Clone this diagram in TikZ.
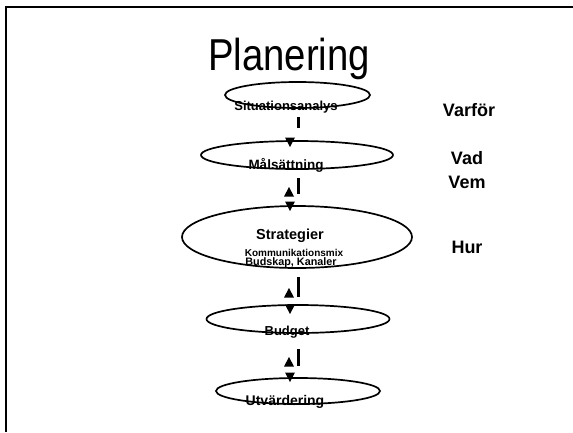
\documentclass[tikz,border=0pt]{standalone}
\usepackage{fontspec}
\setmainfont{Liberation Sans}
\usetikzlibrary{shapes.geometric}
\begin{document}
\begin{tikzpicture}[x=1pt,y=-1pt,
  ell/.style={draw, ellipse, line width=1.7pt, inner sep=0pt},
  lbl/.style={font=\bfseries\fontsize{13}{13}\selectfont, inner sep=0pt},
  side/.style={font=\bfseries\fontsize{18}{18}\selectfont, inner sep=0pt},
  bar/.style={line width=3pt},
  dtri/.pic={\fill (0,0) -- (-5,-9.5) -- (5,-9.5) -- cycle;},
  utri/.pic={\fill (0,0) -- (-5,9.5) -- (5,9.5) -- cycle;}]
\useasboundingbox (0,0) rectangle (573,432);
\fill[white] (0,0) rectangle (573,432);
\draw[line width=2.5pt] (6,432) -- (6,7) -- (573,7);
% title
\node[anchor=base, inner sep=0pt, font=\fontsize{44.7}{44.7}\selectfont] (title) at (289,70) {\scalebox{0.857}[1]{Planering}};
% ellipses
\node[ell, minimum width=145pt, minimum height=26pt] (e1) at (297.5,95) {};
\node[ell, minimum width=192pt, minimum height=28pt] (e2) at (297,155) {};
\node[ell, minimum width=230pt, minimum height=62pt] (e3) at (297,237) {};
\node[ell, minimum width=183pt, minimum height=28pt] (e4) at (298,319) {};
\node[ell, minimum width=164pt, minimum height=26pt] (e5) at (298,391) {};
% texts
\node[lbl] (t1) at (286,107) {Situationsanalys};
\node[lbl, font=\bfseries\fontsize{13.5}{13.5}\selectfont] (t2) at (286,165) {Målsättning};
\node[lbl, font=\bfseries\fontsize{14.5}{14.5}\selectfont] (t3a) at (290,236) {Strategier};
\node[lbl, font=\bfseries\fontsize{10}{10}\selectfont] (t3b) at (294,253) {Kommunikationsmix};
\node[lbl, font=\bfseries\fontsize{10.8}{10.8}\selectfont] (t3c) at (291,263) {Budskap, Kanaler};
\node[lbl] (t4) at (287,332) {Budget};
\node[lbl, font=\bfseries\fontsize{14}{14}\selectfont] (t5) at (285,402) {Utvärdering};
% side labels
\node[side] (s1) at (469,110) {Varför};
\node[side] (s2) at (467,158) {Vad};
\node[side] (s3) at (467,182) {Vem};
\node[side] (s4) at (467,247) {Hur};
% connector coordinates
\coordinate (b1a) at (298.5,117); \coordinate (b1b) at (298.5,128);
\coordinate (b2a) at (298.5,178); \coordinate (b2b) at (298.5,194);
\coordinate (b3a) at (298.5,277); \coordinate (b3b) at (298.5,297);
\coordinate (b4a) at (298.5,349); \coordinate (b4b) at (298.5,366);
\coordinate (d1) at (290,147); \coordinate (d2) at (290,211);
\coordinate (d3) at (290,314); \coordinate (d4) at (290,382);
\coordinate (u2) at (289,187); \coordinate (u3) at (289,288);
\coordinate (u4) at (289,357);
% connectors
\draw[bar] (b1a) -- (b1b);
\draw[bar] (b2a) -- (b2b);
\draw[bar] (b3a) -- (b3b);
\draw[bar] (b4a) -- (b4b);
\pic at (d1) {dtri}; \pic at (d2) {dtri}; \pic at (d3) {dtri}; \pic at (d4) {dtri};
\pic at (u2) {utri}; \pic at (u3) {utri}; \pic at (u4) {utri};
\end{tikzpicture}
\end{document}
